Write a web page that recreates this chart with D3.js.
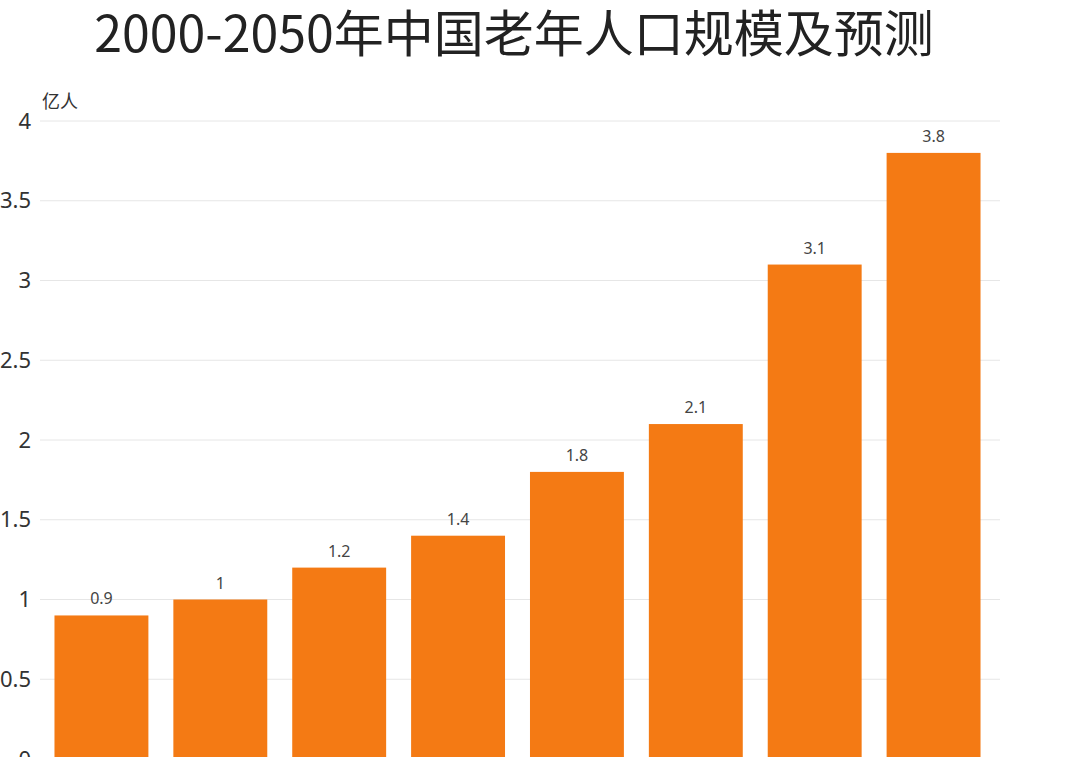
<!DOCTYPE html>
<html><head><meta charset="utf-8">
<script src="https://cdn.jsdelivr.net/npm/d3@7"></script>
<style>body{margin:0;background:#fff;overflow:hidden}</style>
</head><body><div id="chart"></div>
<script>
const categories = ["2000", "2005", "2010", "2015", "2020", "2025", "2035", "2050"];
const values = [0.9, 1, 1.2, 1.4, 1.8, 2.1, 3.1, 3.8];
const yTicks = [0, 0.5, 1, 1.5, 2, 2.5, 3, 3.5, 4];

const width = 1080, height = 757;
const svg = d3.select("#chart").append("svg")
    .attr("width", width).attr("height", height);

const x = d3.scaleBand().domain(categories)
    .range([42, 993]).paddingInner(0.21).paddingOuter(0.105);
const y = d3.scaleLinear().domain([0, 4]).range([759, 121]);

// grid
svg.append("g").selectAll("line").data(yTicks).enter().append("line")
    .attr("x1", 40).attr("x2", 1000)
    .attr("y1", d => y(d)).attr("y2", d => y(d))
    .attr("stroke", "#e6e6e6").attr("stroke-width", 1);

// y axis labels (left part cut off by the edge, as in the source image)
const yAxis = svg.append("g").attr("transform", "translate(31,0)")
    .call(d3.axisLeft(y).tickValues(yTicks).tickSize(0).tickPadding(0).tickFormat(d => d));
yAxis.select(".domain").remove();
yAxis.selectAll("text").attr("font-family", "Noto Sans, sans-serif")
    .attr("font-size", 22).attr("fill", "#333");

// unit
svg.append("text").attr("x", 42).attr("y", 108)
    .attr("font-family", "Noto Sans CJK SC").attr("font-size", 18).attr("fill", "#333").text("亿人");

// bars
svg.selectAll(".bar").data(values).enter().append("rect")
    .attr("x", (d, i) => x(categories[i])).attr("width", x.bandwidth())
    .attr("y", d => y(d)).attr("height", d => y(0) - y(d))
    .attr("fill", "#f47a14");

svg.selectAll(".lbl").data(values).enter().append("text")
    .attr("x", (d, i) => x(categories[i]) + x.bandwidth() / 2)
    .attr("y", d => y(d) - 11)
    .attr("text-anchor", "middle")
    .attr("font-family", "Noto Sans, sans-serif").attr("font-size", 16).attr("fill", "#444")
    .text(d => d);

// title
svg.append("text").attr("x", 514).attr("y", 52).attr("text-anchor", "middle")
    .attr("font-family", "Noto Sans CJK SC").attr("font-size", 50).attr("fill", "#222")
    .text("2000-2050年中国老年人口规模及预测");
</script></body></html>
